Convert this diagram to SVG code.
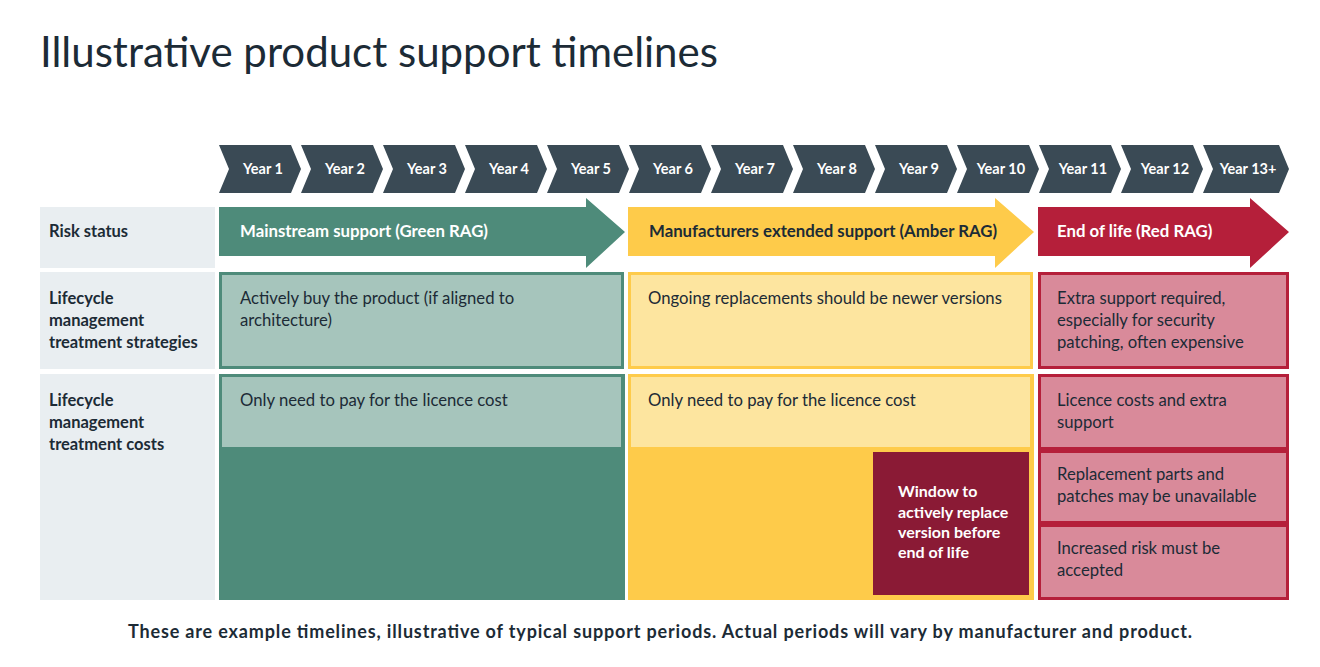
<svg xmlns="http://www.w3.org/2000/svg" width="1320" height="667" viewBox="0 0 1320 667">
<style>
text{font-family:"Lato","Liberation Sans",sans-serif;}
.t{font-size:42px;fill:#1c2b36;}
.yr{font-size:14.5px;font-weight:bold;fill:#fff;text-anchor:middle;}
.chev{fill:#3a4a55;}
.lab{fill:#e9eef1;}
.lt{font-size:16.5px;font-weight:bold;fill:#1c2b36;}
.at{font-size:16.8px;font-weight:bold;}
.bt{font-size:16.7px;fill:#1c2b36;}
.wt{font-size:16px;font-weight:bold;fill:#fff;}
.ft{font-size:18px;font-weight:bold;fill:#1c2b36;}
</style>
<rect width="1320" height="667" fill="#fff"/>
<text class="t" x="40" y="67">Illustrative product support timelines</text>
<g id="years">
<g id="y1"><path class="chev" d="M219,145 H291 L301,169 L291,193 H219 L229,169 Z"/><text class="yr" x="263" y="174">Year 1</text></g>
<g id="y2"><path class="chev" d="M301,145 H373 L383,169 L373,193 H301 L311,169 Z"/><text class="yr" x="345" y="174">Year 2</text></g>
<g id="y3"><path class="chev" d="M383,145 H455 L465,169 L455,193 H383 L393,169 Z"/><text class="yr" x="427" y="174">Year 3</text></g>
<g id="y4"><path class="chev" d="M465,145 H537 L547,169 L537,193 H465 L475,169 Z"/><text class="yr" x="509" y="174">Year 4</text></g>
<g id="y5"><path class="chev" d="M547,145 H619 L629,169 L619,193 H547 L557,169 Z"/><text class="yr" x="591" y="174">Year 5</text></g>
<g id="y6"><path class="chev" d="M629,145 H701 L711,169 L701,193 H629 L639,169 Z"/><text class="yr" x="673" y="174">Year 6</text></g>
<g id="y7"><path class="chev" d="M711,145 H783 L793,169 L783,193 H711 L721,169 Z"/><text class="yr" x="755" y="174">Year 7</text></g>
<g id="y8"><path class="chev" d="M793,145 H865 L875,169 L865,193 H793 L803,169 Z"/><text class="yr" x="837" y="174">Year 8</text></g>
<g id="y9"><path class="chev" d="M875,145 H947 L957,169 L947,193 H875 L885,169 Z"/><text class="yr" x="919" y="174">Year 9</text></g>
<g id="y10"><path class="chev" d="M957,145 H1029 L1039,169 L1029,193 H957 L967,169 Z"/><text class="yr" x="1001" y="174">Year 10</text></g>
<g id="y11"><path class="chev" d="M1039,145 H1111 L1121,169 L1111,193 H1039 L1049,169 Z"/><text class="yr" x="1083" y="174">Year 11</text></g>
<g id="y12"><path class="chev" d="M1121,145 H1193 L1203,169 L1193,193 H1121 L1131,169 Z"/><text class="yr" x="1165" y="174">Year 12</text></g>
<g id="y13"><path class="chev" d="M1203,145 H1279 L1289,169 L1279,193 H1203 L1213,169 Z"/><text class="yr" x="1248" y="174">Year 13+</text></g>
</g>
<g id="labels">
<g id="l1"><rect class="lab" x="40" y="207" width="175" height="61"/><text class="lt" x="49" y="237">Risk status</text></g>
<g id="l2"><rect class="lab" x="40" y="272" width="175" height="97"/><text class="lt" x="49" y="304">Lifecycle</text><text class="lt" x="49" y="326">management</text><text class="lt" x="49" y="348">treatment strategies</text></g>
<g id="l3"><rect class="lab" x="40" y="374" width="175" height="226"/><text class="lt" x="49" y="406">Lifecycle</text><text class="lt" x="49" y="428">management</text><text class="lt" x="49" y="450">treatment costs</text></g>
</g>
<g id="arrows">
<g id="a-green"><path d="M219,207 H586 V198 L625,232 L586,268 V256 H219 Z" fill="#4e8b7a"/><text class="at" x="240" y="237" fill="#fff">Mainstream support (Green RAG)</text></g>
<g id="a-amber"><path d="M628,207 H995 V198 L1034,232 L995,268 V256 H628 Z" fill="#fecb4a"/><text class="at" x="649" y="237" fill="#1c2b36">Manufacturers extended support (Amber RAG)</text></g>
<g id="a-red"><path d="M1038,207 H1250 V198 L1289,232 L1250,268 V256 H1038 Z" fill="#b51f3a"/><text class="at" x="1057" y="237" fill="#fff">End of life (Red RAG)</text></g>
</g>
<g id="strategies">
<g id="s-green"><rect x="220.5" y="273.5" width="402" height="94" fill="#a6c5bc" stroke="#4e8b7a" stroke-width="3"/><text class="bt" x="240" y="304">Actively buy the product (if aligned to</text><text class="bt" x="240" y="326">architecture)</text></g>
<g id="s-amber"><rect x="629.5" y="273.5" width="402" height="94" fill="#fde59f" stroke="#fecb4a" stroke-width="3"/><text class="bt" x="648" y="304">Ongoing replacements should be newer versions</text></g>
<g id="s-red"><rect x="1039.5" y="273.5" width="248" height="94" fill="#d98a9a" stroke="#b51f3a" stroke-width="3"/><text class="bt" x="1057" y="304">Extra support required,</text><text class="bt" x="1057" y="326">especially for security</text><text class="bt" x="1057" y="348">patching, often expensive</text></g>
</g>
<g id="costs">
<g id="c-green"><rect x="219" y="374" width="406" height="226" fill="#4e8b7a"/><rect x="222" y="377" width="399" height="70" fill="#a6c5bc"/><text class="bt" x="240" y="406">Only need to pay for the licence cost</text></g>
<g id="c-amber"><rect x="628" y="374" width="406" height="226" fill="#fecb4a"/><rect x="631" y="377" width="399" height="70" fill="#fde59f"/><text class="bt" x="648" y="406">Only need to pay for the licence cost</text></g>
<g id="c-window"><rect x="873" y="452" width="156" height="143" fill="#8a1a35"/><text class="wt" x="898" y="497">Window to</text><text class="wt" x="898" y="518">actively replace</text><text class="wt" x="898" y="538">version before</text><text class="wt" x="898" y="558">end of life</text></g>
<g id="c-red1"><rect x="1039.5" y="375.5" width="248" height="73" fill="#d98a9a" stroke="#b51f3a" stroke-width="3"/><text class="bt" x="1057" y="406">Licence costs and extra</text><text class="bt" x="1057" y="428">support</text></g>
<g id="c-red2"><rect x="1039.5" y="451.5" width="248" height="71" fill="#d98a9a" stroke="#b51f3a" stroke-width="3"/><text class="bt" x="1057" y="480">Replacement parts and</text><text class="bt" x="1057" y="502">patches may be unavailable</text></g>
<g id="c-red3"><rect x="1039.5" y="525.5" width="248" height="73" fill="#d98a9a" stroke="#b51f3a" stroke-width="3"/><text class="bt" x="1057" y="554">Increased risk must be</text><text class="bt" x="1057" y="576">accepted</text></g>
</g>
<text class="ft" x="128" y="638" textLength="1064" lengthAdjust="spacing">These are example timelines, illustrative of typical support periods. Actual periods will vary by manufacturer and product.</text>
</svg>
